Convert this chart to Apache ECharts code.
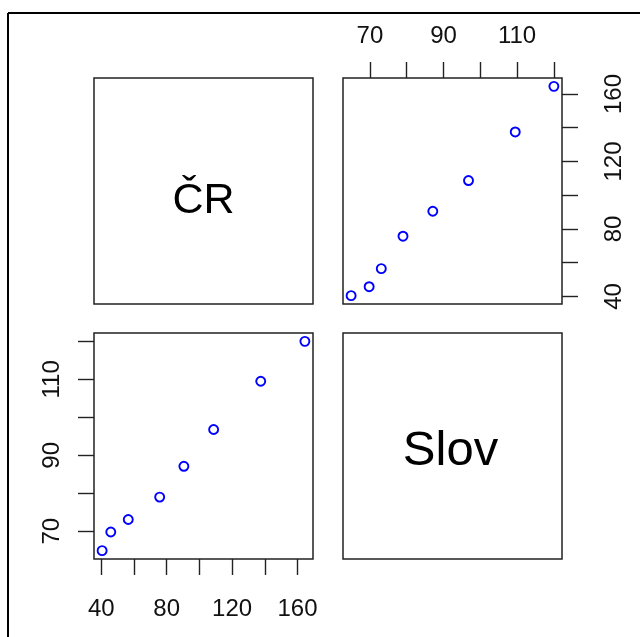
<!DOCTYPE html>
<html>
<head>
<meta charset="utf-8">
<script src="https://cdn.jsdelivr.net/npm/echarts@6/dist/echarts.min.js"></script>
<style>
html,body{margin:0;padding:0;background:#fff;}
#c{width:640px;height:637px;}
</style>
</head>
<body>
<div id="c"></div>
<script>
// ---- data ----
const varNames = ['ČR', 'Slov'];
const chr  = [40.5, 45.8, 56.5, 75.7, 90.5, 108.7, 137.5, 164.5];
const slov = [64.9, 69.8, 73.1, 79.0, 87.1, 96.8, 109.5, 120.0];
const chrTicks  = [40, 60, 80, 100, 120, 140, 160];
const chrLabels = [40, 80, 120, 160];
const slovTicks  = [70, 80, 90, 100, 110, 120];
const slovLabels = [70, 90, 110];

function ext(arr) {
  const lo = Math.min(...arr), hi = Math.max(...arr), r = hi - lo;
  return [lo - 0.04 * r, hi + 0.04 * r];
}
const chrR = ext(chr), slovR = ext(slov);

const FONT = "'Liberation Sans', Arial, sans-serif";
const tickStyle = {show: true, length: 16, lineStyle: {color: '#222', width: 1.4}};
const lblBase = {fontFamily: FONT, fontSize: 24, color: '#111'};

const panels = [
  {left: 94, top: 78, width: 219, height: 226},
  {left: 343, top: 78, width: 219, height: 226},
  {left: 94, top: 333, width: 219, height: 226},
  {left: 343, top: 333, width: 219, height: 226}
];

const grid = panels.map(p => Object.assign({show: true, borderColor: '#222', borderWidth: 1.5, backgroundColor: 'transparent'}, p));

const hiddenAxis = (gi) => ({type: 'value', gridIndex: gi, show: false, min: 0, max: 1});

const xAxis = [
  hiddenAxis(0),
  { // top-right: Slov on top
    type: 'value', gridIndex: 1, position: 'top', min: slovR[0], max: slovR[1],
    axisLine: {show: false}, splitLine: {show: false},
    axisTick: Object.assign({customValues: slovTicks}, tickStyle),
    axisLabel: Object.assign({customValues: slovLabels, margin: 30}, lblBase)
  },
  { // bottom-left: ČR on bottom
    type: 'value', gridIndex: 2, position: 'bottom', min: chrR[0], max: chrR[1],
    axisLine: {show: false}, splitLine: {show: false},
    axisTick: Object.assign({customValues: chrTicks}, tickStyle),
    axisLabel: Object.assign({customValues: chrLabels, margin: 38}, lblBase)
  },
  hiddenAxis(3)
];

const yAxis = [
  hiddenAxis(0),
  { // top-right: ČR on right
    type: 'value', gridIndex: 1, position: 'right', min: chrR[0], max: chrR[1],
    axisLine: {show: false}, splitLine: {show: false},
    axisTick: Object.assign({customValues: chrTicks}, tickStyle),
    axisLabel: Object.assign({customValues: chrLabels, margin: 40, rotate: 90}, lblBase)
  },
  { // bottom-left: Slov on left
    type: 'value', gridIndex: 2, position: 'left', min: slovR[0], max: slovR[1],
    axisLine: {show: false}, splitLine: {show: false},
    axisTick: Object.assign({customValues: slovTicks}, tickStyle),
    axisLabel: Object.assign({customValues: slovLabels, margin: 30, rotate: 90}, lblBase)
  },
  hiddenAxis(3)
];

const markerStyle = {color: '#ffffff', borderColor: '#0000ff', borderWidth: 1.9, opacity: 1};

const series = [
  {
    type: 'scatter', xAxisIndex: 1, yAxisIndex: 1, symbol: 'circle', symbolSize: 9,
    itemStyle: markerStyle, silent: true,
    data: slov.map((v, i) => [v, chr[i]])
  },
  {
    type: 'scatter', xAxisIndex: 2, yAxisIndex: 2, symbol: 'circle', symbolSize: 9,
    itemStyle: markerStyle, silent: true,
    data: chr.map((v, i) => [v, slov[i]])
  }
];

const graphic = [
  {type: 'line', shape: {x1: 8, y1: 13, x2: 8, y2: 637}, style: {stroke: '#000', lineWidth: 2}},
  {type: 'line', shape: {x1: 8, y1: 13, x2: 640, y2: 13}, style: {stroke: '#000', lineWidth: 2}},
  {type: 'text', x: panels[0].left + panels[0].width / 2, y: panels[0].top + panels[0].height / 2 + 10,
   style: {text: varNames[0], fontFamily: FONT, fontSize: 43, fill: '#000', align: 'center', verticalAlign: 'middle'}},
  {type: 'text', x: panels[3].left + panels[3].width / 2 - 2, y: panels[3].top + panels[3].height / 2 + 5,
   style: {text: varNames[1], fontFamily: FONT, fontSize: 49, fill: '#000', align: 'center', verticalAlign: 'middle'}}
];

const chart = echarts.init(document.getElementById('c'), null, {renderer: 'canvas'});
chart.setOption({
  animation: false,
  backgroundColor: '#ffffff',
  grid, xAxis, yAxis, series, graphic
});
</script>
</body>
</html>
